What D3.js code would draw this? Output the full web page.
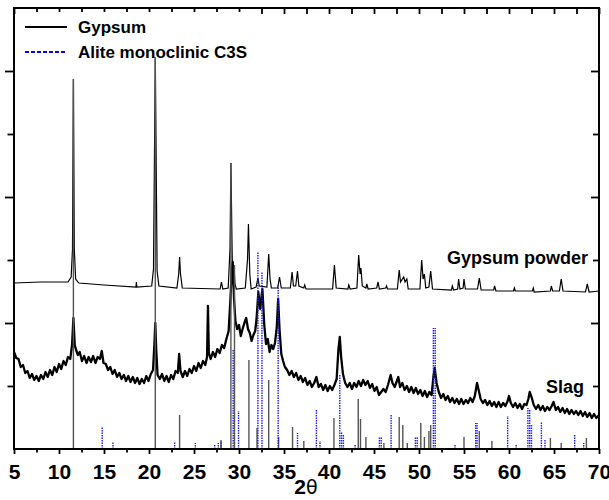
<!DOCTYPE html>
<html>
<head>
<meta charset="utf-8">
<script src="https://cdn.jsdelivr.net/npm/d3@7"></script>
<style>
  body { margin: 0; background: #fff; }
  svg { display: block; font-family: Arial, "Liberation Sans", sans-serif; }
</style>
</head>
<body>
<div id="grafico"></div>
<script>
// 2theta ticks
const xTicks = [5, 10, 15, 20, 25, 30, 35, 40, 45, 50, 55, 60, 65, 70];

// Gypsum powder pattern [2theta, intensity a.u.]
const gypsumPowder = [
  [5, 166], [8, 167], [11.0, 167], [11.35, 172], [11.5, 200], [11.6, 370], [11.7, 200], [11.85, 170],
  [12.2, 166], [15, 164], [18.55, 162], [18.6, 167], [18.65, 162], [20.3, 163], [20.5, 180], [20.7, 393],
  [20.9, 178], [21.1, 163], [23.1, 161], [23.3, 175], [23.4, 192], [23.5, 175], [23.7, 161],
  [27.9, 160], [28.05, 167], [28.2, 160], [28.8, 161], [29.0, 200], [29.1, 286], [29.25, 190],
  [29.35, 170], [29.45, 184], [29.55, 165], [29.7, 160], [30.7, 161], [30.95, 190], [31.05, 225],
  [31.2, 175], [31.35, 160], [31.9, 162], [32.1, 171], [32.25, 163], [33.1, 162], [33.3, 195],
  [33.45, 170], [33.6, 161], [34.3, 161], [34.5, 172], [34.7, 161], [35.7, 161], [35.9, 177],
  [36.05, 163], [36.3, 163], [36.5, 178], [36.65, 163], [37.2, 161], [37.3, 164], [37.45, 160],
  [40.4, 160], [40.6, 184], [40.8, 161], [42.1, 160], [42.2, 164], [42.35, 160], [43.1, 161],
  [43.3, 194], [43.45, 175], [43.55, 181], [43.7, 163], [44.1, 161], [44.2, 165], [44.35, 160],
  [45.3, 161], [45.45, 167], [45.6, 160], [46.3, 161], [46.4, 163], [46.5, 160], [47.6, 160],
  [47.8, 179], [47.95, 167], [48.3, 172], [48.45, 167], [48.65, 170], [48.8, 160], [50.1, 160],
  [50.3, 189], [50.45, 170], [50.6, 175], [50.75, 161], [51.1, 162], [51.3, 178], [51.5, 160],
  [53.6, 159], [53.7, 163], [53.85, 159], [54.3, 160], [54.4, 170], [54.55, 160], [54.9, 161],
  [55.0, 170], [55.15, 160], [56.5, 160], [56.7, 171], [56.9, 159], [58.3, 159], [58.4, 163],
  [58.55, 158], [60.5, 158], [60.6, 161], [60.7, 158], [62.6, 158], [62.7, 161], [62.8, 157],
  [64.6, 158], [64.7, 163], [64.85, 158], [65.6, 158], [65.8, 170], [66.0, 158], [68.5, 157],
  [68.7, 165], [68.9, 157], [70, 158]
];

// Slag pattern [2theta, intensity a.u.]
const slag = [
  [5.00, 97], [5.25, 91], [5.50, 90], [5.75, 82], [6.00, 84], [6.25, 76], [6.50, 78], [6.75, 71],
  [7.00, 75], [7.25, 69], [7.50, 73], [7.75, 68], [8.00, 74], [8.25, 70], [8.50, 77], [8.75, 72],
  [9.00, 79], [9.25, 74], [9.50, 82], [9.75, 77], [10.00, 85], [10.25, 80], [10.50, 88], [10.75, 84],
  [11.00, 92], [11.25, 90], [11.45, 104], [11.60, 131], [11.75, 104], [11.90, 99], [12.10, 94],
  [12.30, 97], [12.55, 88], [12.80, 93], [13.05, 86], [13.30, 92], [13.55, 87], [13.80, 93],
  [14.05, 86], [14.30, 92], [14.55, 90], [14.75, 98], [14.95, 86], [15.20, 85], [15.45, 79],
  [15.70, 82], [15.95, 75], [16.20, 79], [16.45, 72], [16.70, 76], [16.95, 70], [17.20, 74],
  [17.45, 68], [17.70, 73], [17.95, 67], [18.20, 72], [18.45, 66], [18.70, 71], [18.95, 65],
  [19.20, 70], [19.45, 66], [19.70, 73], [19.95, 68], [20.20, 75], [20.45, 79], [20.60, 105],
  [20.70, 126], [20.80, 100], [20.95, 74], [21.20, 70], [21.45, 75], [21.70, 68], [21.95, 73],
  [22.20, 67], [22.45, 74], [22.70, 70], [22.95, 78], [23.20, 76], [23.35, 95], [23.50, 78],
  [23.75, 72], [24.00, 78], [24.25, 73], [24.50, 80], [24.75, 76], [25.00, 83], [25.25, 78],
  [25.50, 86], [25.75, 81], [26.00, 88], [26.25, 84], [26.45, 92], [26.55, 143], [26.65, 96],
  [26.85, 90], [27.10, 97], [27.35, 92], [27.60, 100], [27.85, 96], [28.10, 104], [28.35, 101],
  [28.60, 110], [28.85, 118], [29.05, 150], [29.20, 180], [29.30, 187], [29.45, 150], [29.60, 128],
  [29.80, 120], [30.00, 124], [30.20, 113], [30.40, 120], [30.60, 126], [30.80, 131], [31.00, 120],
  [31.20, 116], [31.40, 108], [31.60, 114], [31.80, 118], [31.95, 130], [32.15, 157], [32.35, 140],
  [32.60, 160], [32.80, 125], [33.00, 105], [33.20, 110], [33.40, 97], [33.60, 104], [33.80, 100],
  [34.00, 106], [34.20, 122], [34.35, 150], [34.50, 120], [34.70, 95], [34.90, 88], [35.10, 82],
  [35.35, 79], [35.60, 74], [35.85, 78], [36.10, 72], [36.35, 76], [36.60, 69], [36.85, 73],
  [37.10, 67], [37.35, 71], [37.60, 64], [37.85, 68], [38.10, 62], [38.35, 66], [38.60, 72],
  [38.85, 62], [39.10, 65], [39.35, 59], [39.60, 64], [39.85, 58], [40.10, 63], [40.35, 59],
  [40.60, 64], [40.85, 70], [41.05, 100], [41.20, 112], [41.35, 92], [41.55, 75], [41.80, 66],
  [42.05, 62], [42.30, 66], [42.55, 60], [42.80, 66], [43.05, 62], [43.30, 68], [43.55, 63],
  [43.80, 69], [44.05, 64], [44.30, 68], [44.55, 61], [44.80, 65], [45.05, 58], [45.30, 62],
  [45.55, 54], [45.80, 57], [46.05, 60], [46.30, 57], [46.55, 64], [46.85, 74], [47.05, 66],
  [47.30, 62], [47.50, 67], [47.70, 72], [47.90, 62], [48.15, 66], [48.40, 59], [48.65, 63],
  [48.90, 57], [49.15, 62], [49.40, 56], [49.65, 61], [49.90, 55], [50.15, 59], [50.40, 53],
  [50.65, 58], [50.90, 52], [51.15, 57], [51.40, 54], [51.60, 72], [51.75, 81], [51.95, 66],
  [52.20, 57], [52.45, 51], [52.70, 55], [52.95, 49], [53.20, 53], [53.45, 47], [53.70, 51],
  [53.95, 46], [54.20, 50], [54.45, 45], [54.70, 50], [54.95, 45], [55.20, 49], [55.45, 46],
  [55.70, 51], [55.95, 47], [56.20, 53], [56.45, 66], [56.65, 58], [56.85, 50], [57.10, 46],
  [57.35, 49], [57.60, 44], [57.85, 48], [58.10, 43], [58.35, 47], [58.60, 42], [58.85, 47],
  [59.10, 42], [59.35, 46], [59.60, 43], [59.85, 48], [60.00, 53], [60.20, 46], [60.45, 42],
  [60.70, 46], [60.95, 41], [61.20, 45], [61.45, 40], [61.70, 45], [61.95, 44], [62.15, 50],
  [62.30, 57], [62.50, 52], [62.75, 44], [63.00, 40], [63.25, 44], [63.50, 39], [63.75, 43],
  [64.00, 38], [64.25, 42], [64.50, 39], [64.75, 43], [64.95, 47], [65.20, 39], [65.45, 42],
  [65.70, 37], [65.95, 41], [66.20, 36], [66.45, 40], [66.70, 35], [66.95, 39], [67.20, 35],
  [67.45, 38], [67.70, 34], [67.95, 38], [68.20, 33], [68.45, 37], [68.70, 32], [68.95, 36],
  [69.20, 31], [69.45, 35], [69.70, 31], [70.00, 34]
];

// Gypsum reference sticks [2theta, intensity]
const gypsumSticks = [
  [11.6, 370], [20.7, 393], [23.4, 34], [28.0, 9], [29.1, 286], [29.5, 184], [31.1, 89], [32.0, 21],
  [33.3, 69], [34.4, 12], [35.95, 22], [37.2, 8], [40.55, 31], [43.25, 50], [43.5, 30], [44.1, 12],
  [46.1, 6], [47.8, 32], [48.2, 24], [48.7, 6], [50.2, 26], [50.6, 12], [51.1, 18], [51.3, 24],
  [55.0, 12], [56.7, 18], [58.1, 8], [64.6, 11], [65.8, 6], [68.6, 11]
];

// Alite monoclinic C3S reference sticks [2theta, intensity]
const aliteSticks = [
  [14.8, 22], [16.0, 7], [22.85, 7], [25.15, 6], [27.3, 4], [27.7, 6], [28.0, 8], [29.35, 100],
  [29.95, 38], [32.1, 197], [32.55, 177], [34.35, 165], [36.5, 16], [38.6, 39], [39.0, 8],
  [41.2, 74], [41.4, 17], [41.6, 14], [42.9, 4], [45.6, 12], [45.8, 12], [46.9, 34], [49.6, 12],
  [49.8, 12], [51.6, 121], [51.8, 121], [54.0, 5], [56.3, 26], [56.45, 26], [59.85, 33], [60.8, 4],
  [62.1, 41], [62.3, 39], [62.5, 25], [63.6, 27], [64.0, 9], [67.3, 15], [68.3, 6]
];

const margin = {top: 8, right: 10, bottom: 51, left: 14},
    width = 609 - margin.left - margin.right,
    height = 500 - margin.top - margin.bottom;

let svg = d3.select("#grafico")
    .append("svg")
    .attr("width", 609)
    .attr("height", 500);

let g = svg.append("g")
    .attr("transform", "translate(" + margin.left + "," + margin.top + ")");

let x = d3.scaleLinear()
    .domain([5, 70])
    .range([0, width]);

let y = d3.scaleLinear()
    .domain([0, 441])
    .range([height, 0]);

g.append("clipPath")
    .attr("id", "recorte")
    .append("rect")
    .attr("width", width)
    .attr("height", height);

let datos = g.append("g").attr("clip-path", "url(#recorte)");

let linea = d3.line()
    .x(function (d) { return x(d[0]); })
    .y(function (d) { return y(d[1]); });

datos.append("path")
    .datum(slag)
    .attr("d", linea)
    .attr("fill", "none")
    .attr("stroke", "#000")
    .attr("stroke-width", 2.3)
    .attr("stroke-linejoin", "round");

datos.append("path")
    .datum(gypsumPowder)
    .attr("d", linea)
    .attr("fill", "none")
    .attr("stroke", "#000")
    .attr("stroke-width", 1.2);

// sticks
datos.selectAll(".gyp")
    .data(gypsumSticks)
    .enter()
    .append("line")
    .attr("class", "gyp")
    .attr("x1", function (d) { return x(d[0]); })
    .attr("x2", function (d) { return x(d[0]); })
    .attr("y1", y(0))
    .attr("y2", function (d) { return y(d[1]); })
    .attr("stroke", "#555")
    .attr("stroke-width", 1.4);

datos.selectAll(".alite")
    .data(aliteSticks)
    .enter()
    .append("line")
    .attr("class", "alite")
    .attr("x1", function (d) { return x(d[0]); })
    .attr("x2", function (d) { return x(d[0]); })
    .attr("y1", y(0))
    .attr("y2", function (d) { return y(d[1]); })
    .attr("stroke", "#1a1aff")
    .attr("stroke-width", 1.4)
    .attr("stroke-dasharray", "1.5,1");

// ejes
let ejeX = g.append("g")
    .attr("transform", "translate(0," + height + ")")
    .call(d3.axisBottom(x).tickValues(xTicks).tickSize(5).tickPadding(0).tickFormat(d3.format("d")));
ejeX.select(".domain").remove();
ejeX.selectAll("line").attr("stroke-width", 1.8);
ejeX.selectAll("text")
    .attr("y", 30)
    .attr("dy", 0)
    .style("font-size", "21px")
    .style("font-weight", "bold")
    .style("font-family", "Arial, 'Liberation Sans', sans-serif")
    .attr("fill", "#000");

let menoresX = xTicks.slice(0, -1).map(function (d) { return d + 2.5; });
g.append("g")
    .attr("transform", "translate(0," + height + ")")
    .call(d3.axisBottom(x).tickValues(menoresX).tickSize(3.5).tickFormat(""))
    .call(function (s) { s.select(".domain").remove(); s.selectAll("line").attr("stroke-width", 1.8); });

g.append("g")
    .call(d3.axisTop(x).tickValues(xTicks.concat(menoresX)).tickSize(-6).tickFormat(""))
    .call(function (s) { s.select(".domain").remove(); s.selectAll("line").attr("stroke-width", 1.8); });

let mayoresY = [126, 252, 378],
    menoresY = [63, 189, 315];

[[mayoresY, 9, -8], [menoresY, 6.5, -6]].forEach(function (t) {
    g.append("g")
        .call(d3.axisLeft(y).tickValues(t[0]).tickSize(t[1]).tickFormat(""))
        .call(function (s) { s.select(".domain").remove(); s.selectAll("line").attr("stroke-width", 1.8); });
    g.append("g")
        .attr("transform", "translate(" + width + ",0)")
        .call(d3.axisRight(y).tickValues(t[0]).tickSize(t[2]).tickFormat(""))
        .call(function (s) { s.select(".domain").remove(); s.selectAll("line").attr("stroke-width", 1.8); });
});

g.append("rect")
    .attr("width", width)
    .attr("height", height)
    .attr("fill", "none")
    .attr("stroke", "#000")
    .attr("stroke-width", 2);

// etiquetas de las curvas
g.append("text")
    .attr("x", 574)
    .attr("y", 256)
    .attr("text-anchor", "end")
    .style("font-size", "18px")
    .style("font-weight", "bold")
    .text("Gypsum powder");

g.append("text")
    .attr("x", 570)
    .attr("y", 385)
    .attr("text-anchor", "end")
    .style("font-size", "18px")
    .style("font-weight", "bold")
    .text("Slag");

// titulo eje X
let tituloX = svg.append("text")
    .attr("x", 306)
    .attr("y", 494)
    .attr("text-anchor", "middle")
    .style("font-size", "21px");
tituloX.append("tspan").style("font-weight", "bold").text("2");
tituloX.append("tspan").style("font-family", "'DejaVu Sans', sans-serif").style("font-size", "19px").text("θ");

// leyenda
let leyenda = svg.append("g");
leyenda.append("rect")
    .attr("x", 18)
    .attr("y", 12)
    .attr("width", 240)
    .attr("height", 45)
    .attr("fill", "#fff");

let series = [
    {nombre: "Gypsum", color: "#000", dash: null},
    {nombre: "Alite monoclinic C3S", color: "#0000ff", dash: "4,2"}
];

series.forEach(function (s, i) {
    let yy = 27 + i * 25;
    leyenda.append("line")
        .attr("x1", 25)
        .attr("x2", 67)
        .attr("y1", yy)
        .attr("y2", yy)
        .attr("stroke", s.color)
        .attr("stroke-width", 2.2)
        .attr("stroke-dasharray", s.dash);
    leyenda.append("text")
        .attr("x", 78)
        .attr("y", yy + 6)
        .style("font-size", "17px")
        .style("font-weight", "bold")
        .text(s.nombre);
});
</script>
</body>
</html>
